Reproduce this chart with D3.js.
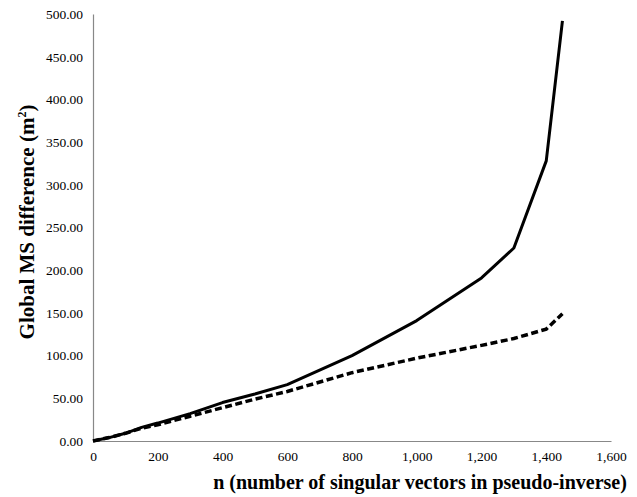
<!DOCTYPE html>
<html>
<head>
<meta charset="utf-8">
<script src="https://cdn.jsdelivr.net/npm/d3@7"></script>
<style>
  body { margin: 0; background: #fff; }
  svg { display: block; }
</style>
</head>
<body>
<svg id="chart" width="637" height="497"></svg>
<script>
// n = number of singular vectors kept in the pseudo-inverse
const nValues = [0, 50, 100, 150, 200, 300, 400, 500, 600, 800, 1000, 1200, 1300, 1400, 1450];
// Global MS difference (m^2) for the two cases
const solidSeries  = [0, 4, 9, 16, 21, 32, 45, 55, 66, 100, 141, 191, 226, 328, 492];
const dashedSeries = [0, 4, 9, 15, 19, 29, 39, 49, 58, 80, 97, 112, 120, 131, 149];
const xTicks = [0, 200, 400, 600, 800, 1000, 1200, 1400, 1600];
const yTicks = [0, 50, 100, 150, 200, 250, 300, 350, 400, 450, 500];

const FONT = "'Liberation Serif', 'DejaVu Serif', serif";

const svg = d3.select("#chart");
const margin = { left: 93, right: 26, top: 14, bottom: 56 };
const W = 637, H = 497;

const x = d3.scaleLinear().domain([0, 1600]).range([margin.left, W - margin.right]);
const y = d3.scaleLinear().domain([0, 500]).range([H - margin.bottom, margin.top]);

// Axes: thin grey lines, no tick marks
const xAxis = svg.append("g")
  .attr("transform", `translate(0,${y(0)})`)
  .call(d3.axisBottom(x).tickValues(xTicks).tickSize(0).tickPadding(10)
    .tickFormat(d3.format(",")));
const yAxis = svg.append("g")
  .attr("transform", `translate(${x(0)},0)`)
  .call(d3.axisLeft(y).tickValues(yTicks).tickSize(0).tickPadding(10)
    .tickFormat(d3.format(".2f")));

[xAxis, yAxis].forEach(g => {
  g.attr("font-family", null).attr("font-size", null);
  g.select(".domain").attr("stroke", "#888").attr("stroke-width", 1.2);
  g.selectAll("text")
    .attr("font-family", FONT)
    .attr("font-size", 13.5).attr("fill", "#000");
});

const line = d3.line().x((d, i) => x(nValues[i])).y(d => y(d));

svg.append("path").datum(dashedSeries)
  .attr("d", line).attr("fill", "none").attr("stroke", "#000")
  .attr("stroke-width", 3.5).attr("stroke-dasharray", "7,3.5");

svg.append("path").datum(solidSeries)
  .attr("d", line).attr("fill", "none").attr("stroke", "#000")
  .attr("stroke-width", 3).attr("stroke-linejoin", "round");

// Axis titles
svg.append("text")
  .attr("x", 420).attr("y", 489)
  .attr("text-anchor", "middle")
  .attr("font-family", FONT)
  .attr("font-size", 20).attr("font-weight", "bold")
  .text("n (number of singular vectors in pseudo-inverse)");

const yt = svg.append("text")
  .attr("transform", "translate(34,222) rotate(-90)")
  .attr("text-anchor", "middle")
  .attr("font-family", FONT)
  .attr("font-size", 21).attr("font-weight", "bold");
yt.append("tspan").text("Global MS difference (m");
yt.append("tspan").attr("dy", -8).attr("font-size", 12).text("2");
yt.append("tspan").attr("dy", 8).text(")");
</script>
</body>
</html>
